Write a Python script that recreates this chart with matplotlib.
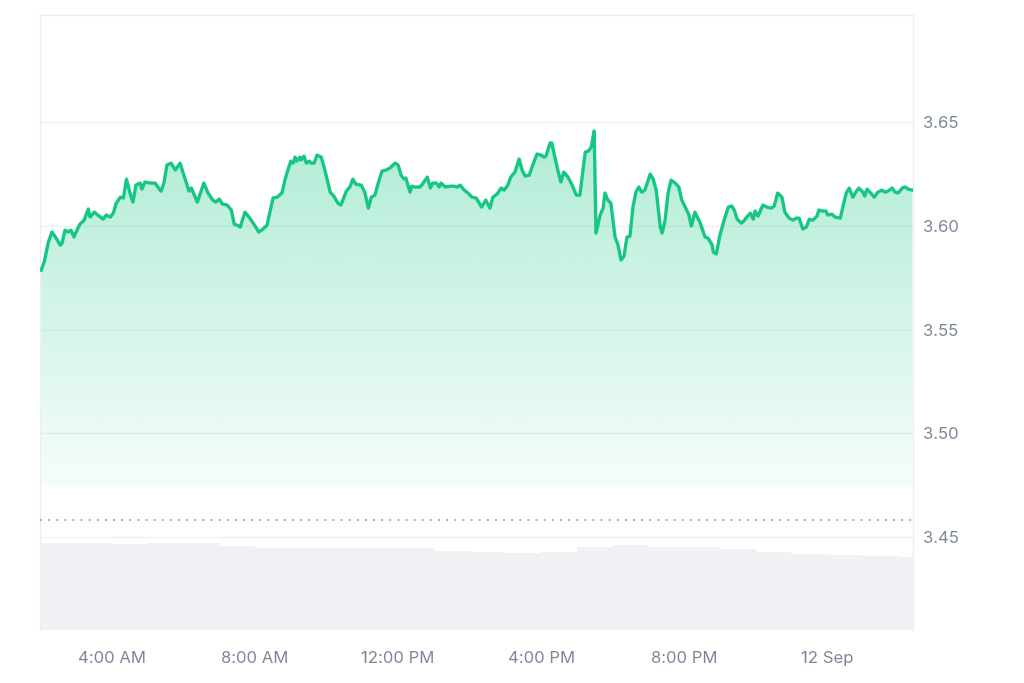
import numpy as np
import matplotlib
matplotlib.use("Agg")
import matplotlib.pyplot as plt
from matplotlib.colors import to_rgb
from matplotlib.patches import PathPatch

# ---- data (minutes after 02:00 on 11 Sep, price in USD) ----
minutes = [1, 6, 13, 19, 26, 33, 36, 41, 46, 51, 56, 61, 66, 73, 80, 83, 90, 96, 105, 110,
           117, 122, 127, 134, 139, 144, 151, 155, 160, 167, 170, 175, 184, 192, 202, 207,
           212, 219, 226, 234, 242, 249, 253, 263, 274, 281, 289, 294, 300, 305, 313, 320,
           325, 330, 335, 343, 351, 360, 366, 373, 380, 390, 397, 405, 410, 415, 420, 424,
           427, 430, 435, 437, 442, 446, 451, 454, 459, 464, 471, 477, 486, 492, 499, 504,
           513, 519, 524, 529, 538, 544, 550, 555, 561, 568, 573, 580, 586, 595, 600, 605,
           610, 613, 620, 623, 628, 637, 642, 649, 654, 658, 664, 669, 672, 679, 687, 694,
           699, 704, 711, 717, 724, 731, 740, 747, 754, 759, 766, 773, 778, 784, 789, 796,
           803, 808, 813, 820, 826, 833, 840, 845, 848, 855, 858, 863, 868, 873, 878, 885,
           892, 899, 905, 914, 919, 924, 929, 932, 939, 944, 947, 952, 957, 964, 969, 974,
           979, 984, 989, 994, 999, 1004, 1009, 1014, 1023, 1028, 1033, 1040, 1043, 1048,
           1053, 1058, 1065, 1071, 1076, 1081, 1088, 1092, 1098, 1103, 1107, 1115, 1120,
           1127, 1129, 1134, 1140, 1147, 1154, 1160, 1164, 1169, 1176, 1180, 1185, 1191,
           1196, 1199, 1204, 1212, 1219, 1226, 1231, 1237, 1244, 1249, 1256, 1263, 1268,
           1273, 1279, 1285, 1290, 1296, 1303, 1306, 1313, 1318, 1321, 1328, 1333, 1342,
           1347, 1352, 1357, 1363, 1368, 1373, 1380, 1383, 1387, 1393, 1399, 1405, 1412,
           1417, 1422, 1429, 1434, 1439, 1446, 1451, 1456, 1463]
price = [3.5786, 3.5825, 3.5921, 3.5970, 3.5941, 3.5907, 3.5917, 3.5979, 3.5970, 3.5979,
         3.5946, 3.5979, 3.6008, 3.6027, 3.6081, 3.6042, 3.6066, 3.6052, 3.6032, 3.6052,
         3.6042, 3.6061, 3.6109, 3.6138, 3.6134, 3.6225, 3.6148, 3.6114, 3.6196, 3.6206,
         3.6177, 3.6211, 3.6206, 3.6206, 3.6167, 3.6206, 3.6293, 3.6302, 3.6269, 3.6302,
         3.6230, 3.6167, 3.6182, 3.6114, 3.6206, 3.6158, 3.6124, 3.6114, 3.6129, 3.6105,
         3.6100, 3.6076, 3.6008, 3.6003, 3.5994, 3.6066, 3.6037, 3.5999, 3.5970, 3.5984,
         3.6003, 3.6134, 3.6138, 3.6158, 3.6220, 3.6269, 3.6312, 3.6302, 3.6331, 3.6312,
         3.6331, 3.6317, 3.6336, 3.6302, 3.6312, 3.6302, 3.6302, 3.6341, 3.6331, 3.6269,
         3.6162, 3.6143, 3.6109, 3.6100, 3.6167, 3.6187, 3.6225, 3.6201, 3.6196, 3.6162,
         3.6085, 3.6138, 3.6148, 3.6220, 3.6264, 3.6269, 3.6278, 3.6302, 3.6293, 3.6244,
         3.6225, 3.6230, 3.6162, 3.6191, 3.6187, 3.6187, 3.6206, 3.6235, 3.6182, 3.6206,
         3.6206, 3.6187, 3.6206, 3.6187, 3.6191, 3.6191, 3.6187, 3.6196, 3.6172, 3.6158,
         3.6138, 3.6134, 3.6090, 3.6124, 3.6085, 3.6138, 3.6153, 3.6182, 3.6172, 3.6196,
         3.6235, 3.6259, 3.6322, 3.6269, 3.6240, 3.6244, 3.6293, 3.6346, 3.6341, 3.6331,
         3.6336, 3.6399, 3.6399, 3.6331, 3.6269, 3.6211, 3.6259, 3.6235, 3.6196, 3.6148,
         3.6148, 3.6355, 3.6360, 3.6379, 3.6457, 3.5965, 3.6052, 3.6085, 3.6158, 3.6124,
         3.6109, 3.5946, 3.5907, 3.5835, 3.5854, 3.5946, 3.5950, 3.6090, 3.6162, 3.6187,
         3.6162, 3.6172, 3.6249, 3.6225, 3.6172, 3.5994, 3.5965, 3.6027, 3.6158, 3.6220,
         3.6206, 3.6187, 3.6124, 3.6095, 3.6052, 3.5999, 3.6066, 3.6037, 3.6013, 3.5946,
         3.5941, 3.5907, 3.5873, 3.5864, 3.5955, 3.6027, 3.6090, 3.6095, 3.6076, 3.6032,
         3.6013, 3.6023, 3.6042, 3.6061, 3.6032, 3.6071, 3.6047, 3.6100, 3.6090, 3.6085,
         3.6095, 3.6158, 3.6138, 3.6066, 3.6037, 3.6027, 3.6037, 3.6037, 3.5984, 3.5994,
         3.6032, 3.6027, 3.6047, 3.6076, 3.6071, 3.6071, 3.6052, 3.6056, 3.6042, 3.6037,
         3.6100, 3.6158, 3.6182, 3.6138, 3.6162, 3.6182, 3.6162, 3.6143, 3.6177, 3.6158,
         3.6138, 3.6162, 3.6172, 3.6162, 3.6167, 3.6182, 3.6162, 3.6158, 3.6182, 3.6187,
         3.6177, 3.6172]

# hourly volume (arbitrary units, millions)
vol_start_min = [0, 60, 120, 180, 240, 300, 360, 420, 480, 540, 600, 660, 720, 780, 840,
                 900, 960, 1020, 1080, 1140, 1200, 1260, 1320, 1380, 1440]
volume = [174, 174, 172, 174, 174, 168, 164, 164, 164, 164, 164, 158, 156, 154, 156,
          166, 170, 166, 166, 162, 156, 152, 150, 148, 146]

xtick_minutes = [120, 360, 600, 840, 1080, 1320]
xtick_labels = ["4:00 AM", "8:00 AM", "12:00 PM", "4:00 PM", "8:00 PM", "12 Sep"]
yticks = [3.45, 3.50, 3.55, 3.60, 3.65]
ref_price = 3.458
fill_floor = 3.474

# ---- styling ----
GREEN = "#16c784"
GREY_TXT = "#7d8699"
GRID = "#eff1f4"
VOL = "#eff1f5"

plt.rcParams['font.family'] = ['Inter', 'DejaVu Sans']

fig = plt.figure(figsize=(10.24, 6.83), dpi=100)
ax = fig.add_axes([40 / 1024, 53 / 683, 873 / 1024, 615 / 683])
ax2 = ax.twinx()
ax.set_zorder(ax2.get_zorder() + 1)
ax.patch.set_visible(False)

x0, x1 = -1, 1464
ax.set_xlim(x0, x1)
ax.set_ylim(3.4052, 3.7016)

# volume
widths = [min(60, x1 - s) for s in vol_start_min]
ax2.bar(vol_start_min, volume, width=widths, align='edge', color=VOL, linewidth=0)
ax2.set_ylim(0, 1230)
ax2.set_yticks([])
for s in ax2.spines.values():
    s.set_visible(False)

# grid
for yv in yticks:
    ax.axhline(yv, color=GRID, lw=1.0, zorder=1)

# gradient fill under line
rgb = to_rgb(GREEN)
n = 256
alphas = np.linspace(0.04, 0.34, n)
grad = np.zeros((n, 1, 4))
grad[:, 0, :3] = rgb
grad[:, 0, 3] = alphas
top = max(price)
img = ax.imshow(grad, extent=[x0, x1, fill_floor, top], origin='lower',
                aspect='auto', interpolation='bilinear', zorder=2)
poly = ax.fill_between(minutes, price, fill_floor, facecolor='none', edgecolor='none')
clip = PathPatch(poly.get_paths()[0], transform=ax.transData, facecolor='none',
                 edgecolor='none')
ax.add_patch(clip)
img.set_clip_path(clip)

# price line
ax.plot(minutes, price, color=GREEN, lw=2.4, zorder=4, solid_joinstyle='round')

# reference dotted line
ax.axhline(ref_price, color="#9aa1ae", lw=1.3, linestyle=(0, (1, 3.5)), zorder=3)

# spines
for side in ['left', 'top', 'right']:
    ax.spines[side].set_color("#eceef1")
    ax.spines[side].set_linewidth(1.0)
ax.spines['bottom'].set_visible(False)

# ticks
ax.yaxis.tick_right()
ax.set_yticks(yticks)
ax.set_yticklabels([f"{v:.2f}" for v in yticks])
ax.set_xticks(xtick_minutes)
ax.set_xticklabels(xtick_labels)
ax.tick_params(axis='both', length=0, colors=GREY_TXT, labelsize=12)
ax.tick_params(axis='y', pad=7)
ax.tick_params(axis='x', pad=15)

fig.savefig("out.png", dpi=100, facecolor="white")
